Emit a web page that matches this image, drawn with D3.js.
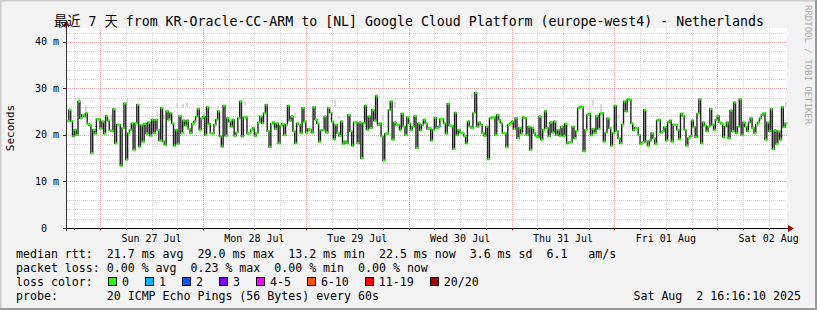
<!DOCTYPE html>
<html><head><meta charset="utf-8">
<script src="https://cdn.jsdelivr.net/npm/d3@7"></script>
<style>
body{margin:0;background:#f3f3f3}
svg{display:block}
text{font-family:"DejaVu Sans Mono","Noto Sans CJK SC",monospace;fill:#000;white-space:pre}
</style>
</head><body>
<svg id="c" width="817" height="310"></svg>
<script>
// ---------------- data ----------------
const title = "最近 7 天 from KR-Oracle-CC-ARM to [NL] Google Cloud Platform (europe-west4) - Netherlands";
const yAxisTitle = "Seconds";
const sideCredit = "RRDTOOL / TOBI OETIKER";
const endTime = "2025-08-02T16:16:10";
const spanDays = 7;
const yMaxValue = 43;
const yTickValues = [0, 10, 20, 30, 40];
const yTickLabels = ["0", "10 m", "20 m", "30 m", "40 m"];

// median RTT (ms), evenly spaced over the 7 days
const rttPart1 = [23.0,25.4,23.0,19.7,21.1,20.0,27.2,23.6,24.3,24.0,24.7,22.4,22.1,16.1,21.1,20.3,23.4,23.4,21.4,22.9,20.3,24.1,23.1,21.0,20.8,25.6,18.2,22.2,22.2,13.4,21.5,26.8,14.7,20.4,21.1,22.5,16.8,22.5,26.5,17.5,22.1,18.6,22.4,20.3,22.7,19.9,23.3,20.4,23.3,21.1,18.8,25.8,18.6,17.9,25.1,23.3,24.7,22.5,17.7,21.1,18.1,24.1,20.4,23.1,22.0,23.1,21.3,20.4,22.4];
const rttPart2 = [22.9,24.0,25.6,21.1,23.6,24.0,20.0,26.0,22.4,20.4,20.3,22.2,23.3,25.1,19.7,17.5,26.3,19.8,23.6,22.9,21.8,23.3,19.8,20.5,23.6,27.2,19.7,23.8,23.8,20.3,20.4,21.1,21.5,19.8,20.4,22.7,24.0,22.5,24.7,26.5,20.8,17.4,22.4,22.7,21.3,22.5,18.2,22.0,22.4,20.0,22.2,26.3,23.1,24.0,20.8,18.2,22.5,22.2,20.4,25.8,22.9,20.5,21.3,21.1,20.5,26.0,23.3,22.5,18.6,21.0,21.1,24.0,20.5,25.8,24.8,22.9];
const rttPart3 = [19.1,22.2,20.4,19.8,22.9,18.1,18.6,18.2,24.3,20.8,17.7,22.7,22.7,18.2,22.7,15.0,22.5,26.3,21.1,24.0,21.5,25.4,23.1,28.4,22.2,22.5,19.7,14.5,20.3,20.3,25.4,27.2,19.0,22.7,22.2,22.2,21.1,24.6,21.8,20.0,23.8,22.5,21.1,21.8,24.1,17.2,22.5,21.0,22.2,23.3,22.5,21.3,21.5,18.8,21.1,23.7,21.5,21.8,23.4,23.4,22.5,20.3,26.7,22.0,22.0,17.0,24.8,20.0,21.1,20.5,20.4,19.8,18.2,22.9,21.8,21.5,24.7,29.1,21.8,22.7];
const rttPart4 = [22.2,20.4,19.8,21.8,14.8,23.6,23.8,23.8,20.0,24.3,23.3,22.5,20.4,20.4,17.4,22.2,22.5,22.9,21.3,23.6,19.3,21.5,20.3,23.8,23.6,20.0,21.8,16.8,21.5,20.4,19.8,19.5,24.0,19.0,21.1,25.1,21.5,19.7,22.7,20.5,22.9,20.0,21.1,19.8,21.8,19.8,22.4,18.2,18.4,18.4,21.8,19.3,20.8,25.8,26.1,26.0,16.5,21.1,24.3,24.6,20.0,21.3,20.4,24.1,21.3,24.6,24.7,18.6,20.5,23.6,21.5,17.7,20.4,26.3,20.8,19.3,18.2,22.2,27.2,25.1,27.7,27.6,22.5,21.0,21.5];
const rttPart5 = [21.5,20.0,18.1,18.4,25.4,18.6,17.7,18.8,20.4,19.3,18.1,23.1,23.3,20.5,20.8,21.7,18.8,22.7,23.1,18.6,22.2,22.2,21.1,19.1,24.6,24.1,21.1,17.7,19.3,19.7,23.1,21.7,19.5,24.6,27.7,18.2,22.7,22.0,20.8,21.8,25.6,22.2,21.1,23.3,24.1,22.7,22.4,19.5,21.8,22.7,19.3,25.3,20.8,27.0,20.4,21.8,27.7,20.0,22.7,21.8,20.8,22.7,23.6,21.5,20.4,22.2,22.7,23.6,24.3,24.7,19.0,22.7,20.8,25.6,17.0,21.0,18.1,20.8,19.0,26.0,21.7,22.5];

// visible ping-spread ("smoke") patches: time, low and high RTT (ms)
const smokeTimes = ["2025-07-26T19:04:00","2025-07-26T20:42:00","2025-07-27T02:28:00","2025-07-27T06:16:00","2025-07-27T13:16:00","2025-07-27T14:54:00","2025-07-27T17:56:00","2025-07-27T19:16:00","2025-07-27T20:12:00","2025-07-28T00:14:00","2025-07-28T03:30:00","2025-07-28T09:48:00","2025-07-28T21:28:00","2025-07-29T06:48:00","2025-07-29T07:44:00","2025-07-29T17:56:00","2025-07-29T20:44:00","2025-07-30T14:46:00","2025-07-30T15:56:00","2025-07-30T21:04:00","2025-07-31T18:56:00","2025-07-31T20:52:00","2025-08-01T00:58:00","2025-08-01T16:02:00","2025-08-02T02:48:00","2025-08-02T16:00:00"];
const smokeLow  = [27.2,25.0,23.2,26.8,24.0,23.4,25.8,25.8,26.0,23.3,25.6,26.3,23.6,26.1,23.4,23.1,25.8,27.9,25.4,22.5,26.1,24.7,23.4,23.9,23.7,26.1];
const smokeHigh = [28.2,26.4,24.4,27.9,25.0,24.3,26.8,26.7,27.0,24.7,26.3,27.2,24.8,27.6,24.1,24.3,27.2,29.0,26.5,23.6,27.6,26.7,24.4,25.0,24.3,27.0];

// points with lost pings (all others: 0 lost)
const lossEvents = [{ time: "2025-07-30T07:10:00", lost: 1 }];

const lossBins = ["0", "1", "2", "3", "4-5", "6-10", "11-19", "20/20"];
const lossColors = ["#26ff00", "#00b8ff", "#0059ff", "#7e00ff", "#ff00ff", "#ff5500", "#ff0000", "#a10000"];

const statLine1 = "median rtt:  21.7 ms avg  29.0 ms max  13.2 ms min  22.5 ms now  3.6 ms sd  6.1   am/s";
const statLine2 = "packet loss: 0.00 % avg  0.23 % max  0.00 % min  0.00 % now";
const lossLabel = "loss color:";
const probeLine = "probe:       20 ICMP Echo Pings (56 Bytes) every 60s";
const stampLine = "Sat Aug  2 16:16:10 2025";

// ---------------- layout ----------------
const W = 817, H = 310;
const PL = 67, PR = 787, PT = 28, PB = 228;

const svg = d3.select("#c");
const parse = d3.timeParse("%Y-%m-%dT%H:%M:%S");
const tEnd = parse(endTime);
const tStart = new Date(tEnd.getTime() - spanDays * 864e5);

const rtt = [...rttPart1, ...rttPart2, ...rttPart3, ...rttPart4, ...rttPart5];
const n = rtt.length;
const stepMs = (tEnd - tStart) / n;
const pts = rtt.map((v, i) => ({ t0: new Date(+tStart + i * stepMs), t1: new Date(+tStart + (i + 1) * stepMs), v, lost: 0 }));
const idxOf = t => Math.min(n - 1, Math.max(0, Math.floor((t - tStart) / stepMs)));
lossEvents.forEach(e => { pts[idxOf(parse(e.time))].lost = e.lost; });
function lossColor(l) {
  if (l <= 0) return lossColors[0];
  if (l === 1) return lossColors[1];
  if (l === 2) return lossColors[2];
  if (l === 3) return lossColors[3];
  if (l <= 5) return lossColors[4];
  if (l <= 10) return lossColors[5];
  if (l <= 19) return lossColors[6];
  return lossColors[7];
}

const x = d3.scaleTime().domain([tStart, tEnd]).range([PL, PR]);
const y = d3.scaleLinear().domain([0, yMaxValue]).range([PB, PT]);

// background and shading frame
svg.append("rect").attr("width", W).attr("height", H).attr("fill", "#f3f3f3");
svg.append("path").attr("d", `M0,${H} V0 H${W}`).attr("fill", "none").attr("stroke", "#cbcbcb").attr("stroke-width", 3);
svg.append("path").attr("d", `M0,${H - 1} H${W - 1} V0`).attr("fill", "none").attr("stroke", "#9b9b9b").attr("stroke-width", 2);

// canvas
svg.append("rect").attr("x", PL).attr("y", PT).attr("width", PR - PL).attr("height", PB - PT).attr("fill", "#fff");

// smoke
const smoke = smokeTimes.map((s, i) => ({ t: parse(s), lo: smokeLow[i], hi: smokeHigh[i] }));
svg.append("g").selectAll("rect").data(smoke).join("rect")
  .attr("x", d => x(d.t) - 1).attr("width", 2.2)
  .attr("y", d => y(d.hi)).attr("height", d => y(d.lo) - y(d.hi))
  .attr("fill", "#d9d9d9");

const grid = svg.append("g").attr("shape-rendering", "crispEdges");
d3.range(2, yMaxValue + 0.01, 2).forEach(v => {
  if (v % 10 === 0) return;
  grid.append("line").attr("x1", PL).attr("x2", PR).attr("y1", Math.round(y(v)) + 0.5).attr("y2", Math.round(y(v)) + 0.5)
    .attr("stroke", "#d6d6d6").attr("stroke-dasharray", "1,1");
});
d3.timeHour.every(6).range(tStart, tEnd).forEach(t => {
  if (t.getHours() === 0) return;
  const xx = Math.round(x(t)) + 0.5;
  grid.append("line").attr("x1", xx).attr("x2", xx).attr("y1", PT).attr("y2", PB).attr("stroke", "#d6d6d6").attr("stroke-dasharray", "1,1");
});
yTickValues.filter(v => v > 0).forEach(v => {
  grid.append("line").attr("x1", PL - 3).attr("x2", PR).attr("y1", Math.round(y(v)) + 0.5).attr("y2", Math.round(y(v)) + 0.5)
    .attr("stroke", "#f0a4a4").attr("stroke-dasharray", "1,1");
});
d3.timeDay.range(tStart, tEnd).forEach(t => {
  const xx = Math.round(x(t)) + 0.5;
  grid.append("line").attr("x1", xx).attr("x2", xx).attr("y1", PT).attr("y2", PB + 3).attr("stroke", "#f0a4a4").attr("stroke-dasharray", "1,1");
});

// median: thin dark line, loss-coloured flats on top
const stepLine = d3.line().x(d => x(d[0])).y(d => y(d[1])).curve(d3.curveStepAfter);
const stepPts = pts.map(p => [p.t0, p.v]).concat([[tEnd, rtt[n - 1]]]);
svg.append("path").attr("d", stepLine(stepPts)).attr("fill", "none").attr("stroke", "#202020").attr("stroke-width", 1.4);
svg.append("g").selectAll("rect").data(pts).join("rect")
  .attr("x", d => x(d.t0)).attr("width", d => x(d.t1) - x(d.t0) + 0.3)
  .attr("y", d => y(d.v) - 1.2).attr("height", 2.4)
  .attr("fill", d => lossColor(d.lost));

// axes
const ax = svg.append("g").attr("shape-rendering", "crispEdges");
ax.append("line").attr("x1", PL - 0.5).attr("x2", PL - 0.5).attr("y1", PB + 3).attr("y2", 24).attr("stroke", "#333");
ax.append("line").attr("x1", PL - 3).attr("x2", PR + 2).attr("y1", PB + 0.5).attr("y2", PB + 0.5).attr("stroke", "#000");
yTickValues.forEach(v => {
  ax.append("line").attr("x1", PL - 4).attr("x2", PL).attr("y1", Math.round(y(v)) + 0.5).attr("y2", Math.round(y(v)) + 0.5).attr("stroke", "#333");
});
d3.timeHour.every(6).range(tStart, tEnd).forEach(t => {
  const xx = Math.round(x(t)) + 0.5;
  ax.append("line").attr("x1", xx).attr("x2", xx).attr("y1", PB).attr("y2", PB + 2).attr("stroke", "#333");
});
svg.append("path").attr("d", `M${PR + 1},${PB - 3} L${PR + 7},${PB + 0.5} L${PR + 1},${PB + 4} Z`).attr("fill", "#a00000");
svg.append("path").attr("d", `M${PL - 3.5},26 L${PL - 0.5},20 L${PL + 2.5},26 Z`).attr("fill", "#a00000");

// y tick labels
yTickValues.forEach((v, i) => {
  const lab = yTickLabels[i];
  const pad = lab.includes("m") ? 0 : 12;
  svg.append("text").attr("x", 59 - pad).attr("y", y(v) + 3.5).attr("text-anchor", "end").attr("font-size", "10px").text(lab);
});
// x labels at noon
const fmt = d3.timeFormat("%a %d %b");
d3.timeDay.range(d3.timeDay.floor(tStart), tEnd).forEach(d => {
  const noon = d3.timeHour.offset(d, 12);
  if (noon < tStart || noon > tEnd) return;
  svg.append("text").attr("x", x(noon)).attr("y", 242).attr("text-anchor", "middle").attr("font-size", "10px").text(fmt(noon));
});

// title & side texts
svg.append("text").attr("x", 409).attr("y", 26).attr("text-anchor", "middle").attr("font-size", "13.25px").text(title);
svg.append("text").attr("transform", "translate(14,128) rotate(-90)").attr("text-anchor", "middle").attr("font-size", "11px").text(yAxisTitle);
svg.append("text").attr("transform", "translate(805,5) rotate(90)").attr("font-size", "9px").style("fill", "#aaa").text(sideCredit);

// legend
const lg = svg.append("g").attr("font-size", "11.6px");
lg.append("text").attr("x", 16).attr("y", 258).text(statLine1);
lg.append("text").attr("x", 16).attr("y", 272).text(statLine2);
lg.append("text").attr("x", 16).attr("y", 286).text(lossLabel);
let bx = 108;
lossBins.forEach((b, i) => {
  lg.append("rect").attr("x", Math.round(bx) + 0.5).attr("y", 277.5).attr("width", 8).attr("height", 8)
    .attr("fill", lossColors[i]).attr("stroke", "#000").attr("shape-rendering", "crispEdges");
  const t = lg.append("text").attr("x", bx + 14).attr("y", 286).text(b);
  bx = bx + 14 + t.node().getComputedTextLength() + 16;
});
lg.append("text").attr("x", 16).attr("y", 300).text(probeLine);
lg.append("text").attr("x", 801).attr("y", 300).attr("text-anchor", "end").text(stampLine);
</script>
</body></html>
